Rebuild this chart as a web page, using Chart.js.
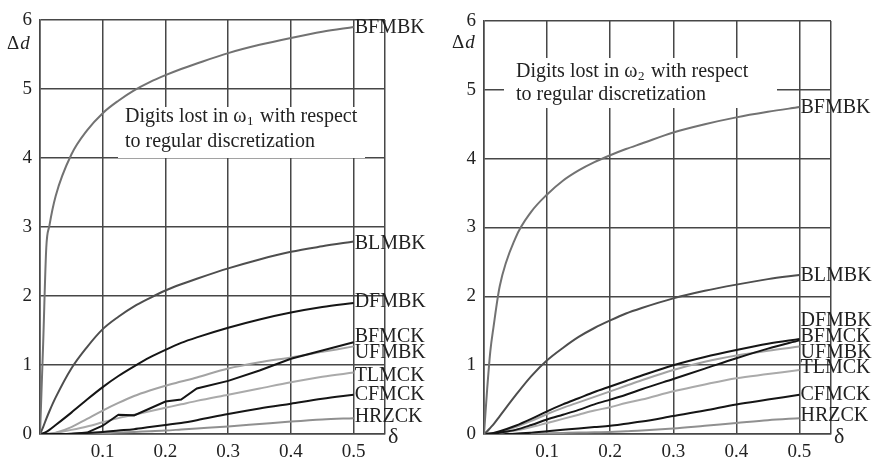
<!DOCTYPE html>
<html>
<head>
<meta charset="utf-8">
<script src="https://cdn.jsdelivr.net/npm/chart.js@4.4.1/dist/chart.umd.min.js"></script>
<style>
  html,body{margin:0;padding:0;background:#fff;}
  #wrap{position:relative;width:874px;height:461px;overflow:hidden;background:#fff;}
  .panel{position:absolute;top:0;width:437px;height:461px;}
</style>
</head>
<body>
<div id="wrap">
  <div class="panel" style="left:0"><canvas id="c1" width="437" height="461"></canvas></div>
  <div class="panel" style="left:437px"><canvas id="c2" width="437" height="461"></canvas></div>
</div>
<script>
// ---------- data ----------
const seriesNames = ['BFMBK','BLMBK','DFMBK','BFMCK','UFMBK','TLMCK','CFMCK','HRZCK'];
const delta = [0, 0.005, 0.01, 0.015, 0.025, 0.05, 0.075, 0.1, 0.125, 0.15, 0.175, 0.2, 0.225, 0.25, 0.3, 0.35, 0.4, 0.45, 0.5];
const xTicks = [0.1, 0.2, 0.3, 0.4, 0.5];
const yTicks = [0, 1, 2, 3, 4, 5, 6];

// panel 1 (omega 1)
const bfmbk1 = [0, 1.3, 2.7, 3.02, 3.45, 4.05, 4.4, 4.65, 4.83, 4.98, 5.1, 5.2, 5.29, 5.37, 5.52, 5.64, 5.74, 5.83, 5.9];
const blmbk1 = [0, 0.1, 0.22, 0.33, 0.53, 0.95, 1.26, 1.52, 1.7, 1.85, 1.97, 2.08, 2.17, 2.25, 2.4, 2.53, 2.64, 2.72, 2.79];
const dfmbk1 = [0, 0.01, 0.03, 0.06, 0.13, 0.31, 0.5, 0.68, 0.84, 0.98, 1.11, 1.22, 1.32, 1.4, 1.54, 1.66, 1.76, 1.84, 1.9];
const bfmck1 = [0, 0, 0, 0, 0, 0, 0.02, 0.12, 0.28, 0.27, 0.37, 0.47, 0.5, 0.66, 0.77, 0.92, 1.09, 1.21, 1.33];
const ufmbk1 = [0, 0, 0.002, 0.005, 0.02, 0.1, 0.22, 0.34, 0.45, 0.55, 0.63, 0.7, 0.76, 0.82, 0.95, 1.04, 1.11, 1.19, 1.27];
const tlmck1 = [0, 0, 0.002, 0.005, 0.015, 0.06, 0.11, 0.17, 0.23, 0.28, 0.33, 0.38, 0.43, 0.48, 0.57, 0.66, 0.75, 0.83, 0.89];
const cfmck1 = [0, 0, 0, 0, 0, 0.005, 0.015, 0.03, 0.05, 0.07, 0.1, 0.13, 0.16, 0.2, 0.29, 0.37, 0.44, 0.51, 0.57];
const hrzck1 = [0, 0, 0, 0, 0, 0.002, 0.005, 0.01, 0.02, 0.03, 0.04, 0.05, 0.065, 0.08, 0.11, 0.145, 0.18, 0.21, 0.23];

// panel 2 (omega 2)
const bfmbk2 = [0, 0.65, 1.2, 1.55, 2.15, 2.85, 3.23, 3.48, 3.68, 3.83, 3.95, 4.05, 4.14, 4.22, 4.38, 4.5, 4.6, 4.68, 4.75];
const blmbk2 = [0, 0.04, 0.09, 0.14, 0.26, 0.56, 0.84, 1.07, 1.25, 1.41, 1.54, 1.65, 1.75, 1.83, 1.97, 2.08, 2.17, 2.25, 2.31];
const dfmbk2 = [0, 0.003, 0.008, 0.015, 0.04, 0.12, 0.22, 0.33, 0.43, 0.52, 0.61, 0.69, 0.77, 0.85, 1.0, 1.12, 1.22, 1.31, 1.38];
const bfmck2 = [0, 0.002, 0.004, 0.007, 0.02, 0.06, 0.13, 0.21, 0.28, 0.35, 0.43, 0.5, 0.57, 0.65, 0.8, 0.95, 1.1, 1.24, 1.36];
const ufmbk2 = [0, 0.002, 0.006, 0.012, 0.03, 0.1, 0.19, 0.29, 0.38, 0.46, 0.54, 0.62, 0.7, 0.78, 0.93, 1.05, 1.14, 1.21, 1.27];
const tlmck2 = [0, 0.001, 0.004, 0.007, 0.02, 0.05, 0.1, 0.16, 0.22, 0.28, 0.34, 0.39, 0.45, 0.5, 0.62, 0.72, 0.81, 0.87, 0.93];
const cfmck2 = [0, 0, 0, 0, 0.001, 0.005, 0.02, 0.04, 0.06, 0.08, 0.1, 0.12, 0.15, 0.18, 0.26, 0.34, 0.43, 0.5, 0.57];
const hrzck2 = [0, 0, 0, 0, 0, 0.002, 0.005, 0.01, 0.015, 0.02, 0.025, 0.03, 0.04, 0.05, 0.08, 0.12, 0.16, 0.2, 0.23];

// ---------- styling / layout (not data) ----------
const SERIF = '"Liberation Serif", "DejaVu Serif", serif';
const lineColors = {BFMBK:'#727272', BLMBK:'#4e4e4e', DFMBK:'#151515', BFMCK:'#151515', UFMBK:'#a3a3a3', TLMCK:'#aaaaaa', CFMCK:'#151515', HRZCK:'#909090'};
const GRID = '#474747';

const panels = [
  {
    canvas:'c1', series:[bfmbk1,blmbk1,dfmbk1,bfmck1,ufmbk1,tlmck1,cfmck1,hrzck1],
    sharp:['BFMCK'],
    yAxisWidth:40, padding:{left:0, top:20, right:52, bottom:0},
    labelY:{BFMBK:5.9, BLMBK:2.77, DFMBK:1.93, BFMCK:1.42, UFMBK:1.19, TLMCK:0.855, CFMCK:0.58, HRZCK:0.26},
    note:{sub:'1', x:125, y1:117, y2:142, box:[118,107,365,158]},
    deltaD:{x:7, y:44}
  },
  {
    canvas:'c2', series:[bfmbk2,blmbk2,dfmbk2,bfmck2,ufmbk2,tlmck2,cfmck2,hrzck2],
    sharp:[],
    yAxisWidth:47, padding:{left:0, top:21, right:43, bottom:0},
    labelY:{BFMBK:4.75, BLMBK:2.31, DFMBK:1.66, BFMCK:1.43, UFMBK:1.2, TLMCK:0.98, CFMCK:0.59, HRZCK:0.28},
    note:{sub:'2', x:516-437, y1:72, y2:95, box:[504-437,58,777-437,108]},
    deltaD:{x:452-437, y:43}
  }
];

const decorPlugin = {
  id:'decor',
  beforeDatasetsDraw(chart, args, opts){
    const ctx = chart.ctx, n = opts.note;
    ctx.save();
    ctx.fillStyle = '#fff';
    ctx.fillRect(n.box[0], n.box[1], n.box[2]-n.box[0], n.box[3]-n.box[1]);
    ctx.fillStyle = '#222';
    ctx.textBaseline = 'middle';
    ctx.textAlign = 'left';
    ctx.font = '20px ' + SERIF;
    let x = n.x;
    const p1 = 'Digits lost in \u03C9';
    ctx.fillText(p1, x, n.y1);
    x += ctx.measureText(p1).width;
    ctx.font = '13px ' + SERIF;
    ctx.fillText(n.sub, x + 0.5, n.y1 + 5);
    x += ctx.measureText(n.sub).width + 2;
    ctx.font = '20px ' + SERIF;
    ctx.fillText(' with respect', x, n.y1);
    ctx.fillText('to regular discretization', n.x, n.y2);
    ctx.restore();
  },
  afterDatasetsDraw(chart, args, opts){
    const ctx = chart.ctx;
    const xs = chart.scales.x, ys = chart.scales.y, ca = chart.chartArea;
    ctx.save();
    ctx.fillStyle = '#222';
    ctx.textBaseline = 'middle';
    ctx.textAlign = 'left';
    ctx.font = '20px ' + SERIF;
    const xEnd = xs.getPixelForValue(delta[delta.length-1]);
    seriesNames.forEach(name => {
      ctx.fillText(name, xEnd + 1, ys.getPixelForValue(opts.labelY[name]) + 1);
    });
    ctx.font = '22px ' + SERIF;
    ctx.fillText('\u03B4', ca.right + 3, ca.bottom + 3);
    ctx.font = '19px ' + SERIF;
    const dd = opts.deltaD;
    ctx.fillText('\u0394', dd.x, dd.y);
    const w = ctx.measureText('\u0394').width;
    ctx.font = 'italic 19px ' + SERIF;
    ctx.fillText('d', dd.x + w + 1, dd.y);
    ctx.restore();
  }
};

panels.forEach(p => {
  const datasets = seriesNames.map((name, i) => ({
    label: name,
    data: delta.map((d, k) => ({x: d, y: p.series[i][k]})),
    borderColor: lineColors[name],
    borderWidth: 2,
    pointRadius: 0,
    showLine: true,
    fill: false,
    cubicInterpolationMode: p.sharp.includes(name) ? 'default' : 'monotone',
    tension: 0
  }));
  new Chart(document.getElementById(p.canvas), {
    type: 'scatter',
    data: {datasets},
    plugins: [decorPlugin],
    options: {
      responsive: false,
      animation: false,
      events: [],
      layout: {padding: p.padding},
      plugins: {
        legend: {display:false},
        tooltip: {enabled:false},
        title: {display:false},
        decor: {labelY: p.labelY, note: p.note, deltaD: p.deltaD}
      },
      scales: {
        x: {
          type:'linear', min:0, max:0.55,
          afterBuildTicks(scale){ scale.ticks = [0].concat(xTicks, [0.55]).map(v => ({value:v})); },
          afterFit(scale){ scale.height = 27; },
          ticks: {
            autoSkip:false, maxRotation:0, padding:7, color:'#222',
            font:{family:SERIF, size:19},
            callback(v){ return xTicks.includes(v) ? v.toFixed(1) : ''; }
          },
          grid: {color:GRID, lineWidth:1.5, drawTicks:false},
          border: {color:GRID, width:1.5}
        },
        y: {
          type:'linear', min:0, max:6,
          afterBuildTicks(scale){ scale.ticks = yTicks.map(v => ({value:v})); },
          afterFit(scale){ scale.width = p.yAxisWidth; },
          ticks: {
            autoSkip:false, padding:8, color:'#222',
            font:{family:SERIF, size:19},
            callback(v){ return String(v); }
          },
          grid: {color:GRID, lineWidth:1.5, drawTicks:false},
          border: {color:GRID, width:1.5}
        }
      }
    }
  });
});
</script>
</body>
</html>
